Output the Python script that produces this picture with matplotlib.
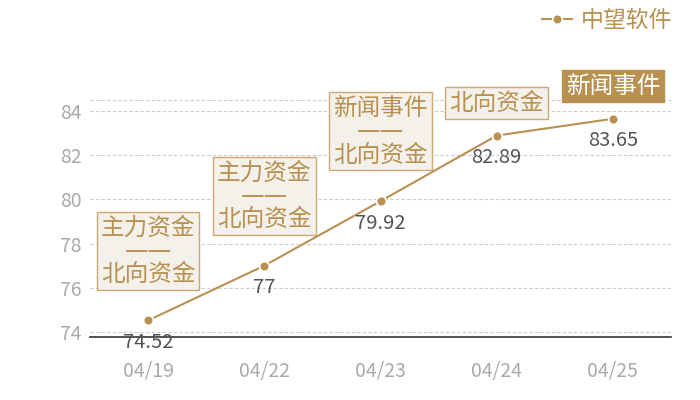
import matplotlib
matplotlib.use("Agg")
from matplotlib import pyplot as plt

plt.rcParams['font.family'] = ['Noto Sans CJK SC', 'DejaVu Sans']

dates = ["04/19", "04/22", "04/23", "04/24", "04/25"]
prices = [74.52, 77, 79.92, 82.89, 83.65]
value_labels = ["74.52", "77", "79.92", "82.89", "83.65"]
events = [
    "主力资金\n——\n北向资金",
    "主力资金\n——\n北向资金",
    "新闻事件\n——\n北向资金",
    "北向资金",
    "新闻事件",
]
yticks = [74, 76, 78, 80, 82, 84]
series_name = "中望软件"

GOLD = "#b8904f"
BOX_EDGE = "#cba874"
BOX_FILL = "#f4f0ea"

fig = plt.figure(figsize=(7, 4), dpi=100)
ax = fig.add_axes([0.1286, 0.1575, 0.83, 0.5925])

x = list(range(len(dates)))
line, = ax.plot(x, prices, color=GOLD, lw=1.5, marker="o", ms=7,
                markeredgecolor="white", markeredgewidth=1.2, zorder=3,
                label=series_name)

ax.set_xlim(-0.5, len(dates) - 0.5)
ax.set_ylim(73.77, 84.5)
ax.set_yticks(yticks)
ax.set_xticks(x)
ax.set_xticklabels(dates)
ax.tick_params(axis="both", length=0, labelsize=14, colors="#aaaaaa")
ax.tick_params(axis="x", pad=17)
ax.tick_params(axis="y", pad=6)

for s in ["top", "left", "right"]:
    ax.spines[s].set_visible(False)
ax.spines["bottom"].set_color("#333333")
ax.spines["bottom"].set_linewidth(1.2)

ax.grid(axis="y", color="#cccccc", ls=(0, (3, 2)), lw=0.8)
ax.axhline(84.5, color="#cccccc", ls=(0, (3, 2)), lw=0.8, clip_on=False)
ax.set_axisbelow(True)

for i, (p, lab) in enumerate(zip(prices, value_labels)):
    ax.annotate(lab, (i, p), xytext=(0, -16), textcoords="offset points",
                ha="center", va="center", fontsize=14.5, color="#555555")

# DejaVu first so the em dashes join into one rule; CJK falls back to Noto
box_font = ['DejaVu Sans', 'Noto Sans CJK SC']
for i, (p, ev) in enumerate(zip(prices, events)):
    last = i == len(events) - 1
    multi = "\n" in ev
    off = 25 if multi else 15
    ax.annotate(ev, (i, p), xytext=(0, off), textcoords="offset points",
                ha="center", va="bottom", fontsize=17, linespacing=0.95,
                family=box_font,
                color="white" if last else GOLD, zorder=4,
                bbox=dict(boxstyle="square,pad=0.17",
                          fc=GOLD if last else BOX_FILL,
                          ec=GOLD if last else BOX_EDGE, lw=1))

leg = fig.legend(handles=[line], loc="upper right", bbox_to_anchor=(0.99, 1.03),
                 frameon=False, fontsize=16.5, handlelength=1.3, handletextpad=0.4,
                 labelcolor=GOLD)

fig.savefig("out.png", dpi=100)
